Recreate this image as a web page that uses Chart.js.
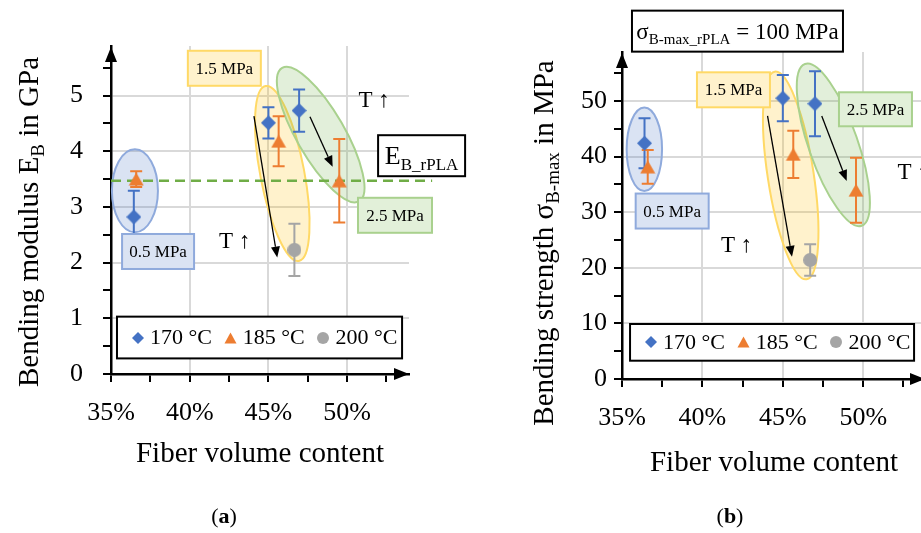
<!DOCTYPE html>
<html><head><meta charset="utf-8">
<script src="https://cdn.jsdelivr.net/npm/chart.js@4.4.1/dist/chart.umd.min.js"></script>
<style>
html,body{margin:0;padding:0;background:#fff;overflow:hidden;}
#wrap{position:relative;width:921px;height:533px;overflow:hidden;background:#fff;}
#ca{position:absolute;left:0;top:0;}
#cb{position:absolute;left:470px;top:0;}
</style></head><body>
<div id="wrap"><canvas id="ca" width="470" height="533"></canvas><canvas id="cb" width="465" height="533"></canvas></div>
<script>
// ---------------- DATA ----------------
const temperatures = ['170 °C', '185 °C', '200 °C'];
const xTickLabels = ['35%', '40%', '45%', '50%'];

// (a) bending modulus in GPa
const fiberA170 = [36.45, 45.0, 46.95];
const modulus170 = [2.82, 4.51, 4.73];
const modulusErr170 = [0.47, 0.28, 0.38];
const fiberA185 = [36.6, 45.65, 49.5];
const modulus185 = [3.50, 4.18, 3.47];
const modulusErr185 = [0.14, 0.45, 0.75];
const fiberA200 = [46.65];
const modulus200 = [2.23];
const modulusErr200 = [0.47];
const modulusRPLA = 3.47;

// (b) bending strength in MPa
const fiberB170 = [36.4, 45.0, 47.0];
const strength170 = [42.4, 50.5, 49.5];
const strengthErr170 = [4.5, 4.15, 5.85];
const fiberB185 = [36.6, 45.65, 49.55];
const strength185 = [38.15, 40.4, 33.95];
const strengthErr185 = [3.05, 4.25, 5.85];
const fiberB200 = [46.7];
const strength200 = [21.4];
const strengthErr200 = [2.85];
const strengthRPLA = 100;

// ---------------- STYLE ----------------
const SERIF = '"Liberation Serif", "Times New Roman", serif';
const BLUE = '#4472C4', ORANGE = '#ED7D31', GRAY = '#A5A5A5';

function markerCanvas(shape, color, w, h) {
  const c = document.createElement('canvas');
  c.width = w; c.height = h;
  const g = c.getContext('2d');
  g.fillStyle = color;
  g.beginPath();
  if (shape === 'diamond') {
    g.moveTo(w / 2, 0); g.lineTo(w, h / 2); g.lineTo(w / 2, h); g.lineTo(0, h / 2);
  } else if (shape === 'triangle') {
    g.moveTo(w / 2, 0.5); g.lineTo(w - 0.5, h - 0.5); g.lineTo(0.5, h - 0.5);
  } else {
    g.arc(w / 2, h / 2, w / 2, 0, Math.PI * 2);
  }
  g.closePath();
  g.fill();
  return c;
}
const MK = {
  diamond: markerCanvas('diamond', BLUE, 15, 15),
  triangle: markerCanvas('triangle', ORANGE, 16, 14),
  circle: markerCanvas('circle', GRAY, 14, 14)
};
const MKL = {
  diamond: markerCanvas('diamond', BLUE, 12, 12),
  triangle: markerCanvas('triangle', ORANGE, 13, 12),
  circle: markerCanvas('circle', GRAY, 12, 12)
};

function pts(xs, ys) { return xs.map((x, i) => ({x: x, y: ys[i]})); }
function isMult(v, m) { const r = Math.abs(v / m - Math.round(v / m)); return r < 1e-6; }

// ---------------- ANNOTATIONS ----------------
const ANN = {
  ca: {
    errors: [modulusErr170, modulusErr185, modulusErr200],
    ellipses: [
      {x: 36.52, y: 3.29, rx: 23, ry: 41.5, rot: 0, fill: 'rgba(68,114,196,0.2)', stroke: '#8FAADC'},
      {x: 45.88, y: 3.60, rx: 22, ry: 89, rot: -10.8, fill: 'rgba(255,192,0,0.2)', stroke: '#FFD966'},
      {x: 48.32, y: 4.30, rx: 24, ry: 77, rot: -30, fill: 'rgba(112,173,71,0.2)', stroke: '#A9D18E'}
    ],
    arrows: [[44.08, 4.63, 45.56, 2.09], [47.64, 4.62, 49.08, 3.72]],
    boxes: [
      {x: 37.99, y: 2.20, w: 72, h: 35, fill: '#DAE3F3', stroke: '#8FAADC', lw: 2, parts: [['0.5 MPa', 0]], size: 17},
      {x: 42.20, y: 5.49, w: 73, h: 35, fill: '#FFF2CC', stroke: '#FFD966', lw: 2, parts: [['1.5 MPa', 0]], size: 17},
      {x: 53.04, y: 2.85, w: 74, h: 35, fill: '#E2F0D9', stroke: '#A9D18E', lw: 2, parts: [['2.5 MPa', 0]], size: 17},
      {x: 54.73, y: 3.92, w: 87, h: 41, fill: '#FFFFFF', stroke: '#000000', lw: 2, parts: [['E', 0], ['B_rPLA', 1]], size: 26}
    ],
    texts: [{x: 51.71, y: 4.90, t: 'T ↑'}, {x: 42.86, y: 2.37, t: 'T ↑'}],
    legend: {x0: 35.38, x1: 53.49, y0: 1.03, y1: 0.28},
    xTitle: {x: 260, y: 462},
    yTitle: {x: 38, y: 222, parts: [['Bending modulus E', 0], ['B', 1], [' in GPa', 0]]},
    panel: {x: 224, y: 523, t: 'a'}
  },
  cb: {
    errors: [strengthErr170, strengthErr185, strengthErr200],
    ellipses: [
      {x: 36.39, y: 41.3, rx: 17.7, ry: 41.8, rot: 0, fill: 'rgba(68,114,196,0.2)', stroke: '#8FAADC'},
      {x: 45.49, y: 36.6, rx: 23, ry: 105, rot: -8.7, fill: 'rgba(255,192,0,0.2)', stroke: '#FFD966'},
      {x: 48.14, y: 42.1, rx: 24.5, ry: 85.7, rot: -19.3, fill: 'rgba(112,173,71,0.2)', stroke: '#A9D18E'}
    ],
    arrows: [[44.05, 47.3, 45.57, 21.97], [47.42, 47.3, 48.97, 35.6]],
    boxes: [
      {x: 38.12, y: 30.2, w: 73, h: 35, fill: '#DAE3F3', stroke: '#8FAADC', lw: 2, parts: [['0.5 MPa', 0]], size: 17},
      {x: 41.93, y: 52.0, w: 73, h: 35, fill: '#FFF2CC', stroke: '#FFD966', lw: 2, parts: [['1.5 MPa', 0]], size: 17},
      {x: 50.76, y: 48.5, w: 73, h: 34, fill: '#E2F0D9', stroke: '#A9D18E', lw: 2, parts: [['2.5 MPa', 0]], size: 17},
      {x: 42.18, y: 62.55, w: 211, h: 41, fill: '#FFFFFF', stroke: '#000000', lw: 2, parts: [['σ', 0], ['B-max_rPLA', 1], [' = ' + strengthRPLA + ' MPa', 0]], size: 23}
    ],
    texts: [{x: 42.13, y: 23.9, t: 'T ↑'}, {x: 53.1, y: 37.1, t: 'T ↑'}],
    legend: {x0: 35.5, x1: 53.16, y0: 9.89, y1: 3.29},
    xTitle: {x: 304, y: 471},
    yTitle: {x: 83, y: 243, parts: [['Bending strength σ', 0], ['B-max', 1], [' in MPa', 0]]},
    panel: {x: 260, y: 523, t: 'b'}
  }
};

function drawRich(ctx, parts, x, y, size, align) {
  const sub = Math.round(size * 0.66);
  const ws = parts.map(p => { ctx.font = (p[1] ? sub : size) + 'px ' + SERIF; return ctx.measureText(p[0]).width; });
  const total = ws.reduce((a, b) => a + b, 0);
  let cx = align === 'center' ? x - total / 2 : (align === 'right' ? x - total : x);
  ctx.textAlign = 'left';
  ctx.textBaseline = 'alphabetic';
  parts.forEach((p, i) => {
    ctx.font = (p[1] ? sub : size) + 'px ' + SERIF;
    ctx.fillText(p[0], cx, y + (p[1] ? size * 0.22 : 0));
    cx += ws[i];
  });
}

function drawArrow(ctx, x1, y1, x2, y2) {
  const a = Math.atan2(y2 - y1, x2 - x1), L = 11, W = 4.5;
  const bx = x2 - L * Math.cos(a), by = y2 - L * Math.sin(a);
  ctx.beginPath(); ctx.moveTo(x1, y1); ctx.lineTo(bx, by);
  ctx.lineWidth = 1.3; ctx.strokeStyle = '#000'; ctx.stroke();
  ctx.beginPath(); ctx.moveTo(x2, y2);
  ctx.lineTo(bx - W * Math.sin(a), by + W * Math.cos(a));
  ctx.lineTo(bx + W * Math.sin(a), by - W * Math.cos(a));
  ctx.closePath(); ctx.fillStyle = '#000'; ctx.fill();
}

const annotPlugin = {
  id: 'annot',
  beforeDatasetsDraw(chart) {
    const A = ANN[chart.canvas.id]; const ctx = chart.ctx;
    const xs = chart.scales.x, ys = chart.scales.y;
    const X = v => xs.getPixelForValue(v), Y = v => ys.getPixelForValue(v);
    ctx.save();
    A.ellipses.forEach(e => {
      ctx.beginPath();
      ctx.ellipse(X(e.x), Y(e.y), e.rx, e.ry, e.rot * Math.PI / 180, 0, Math.PI * 2);
      ctx.fillStyle = e.fill; ctx.fill();
      ctx.lineWidth = 2; ctx.strokeStyle = e.stroke; ctx.stroke();
    });
    ctx.restore();
    A.errors.forEach((errs, di) => {
      const ds = chart.data.datasets[di];
      ctx.save(); ctx.strokeStyle = ds.borderColor; ctx.lineWidth = 2;
      ds.data.forEach((p, i) => {
        const x = X(p.x);
        const y1 = Y(p.y + errs[i]), y2 = Y(p.y - errs[i]);
        ctx.beginPath();
        ctx.moveTo(x, y1); ctx.lineTo(x, y2);
        ctx.moveTo(x - 6, y1); ctx.lineTo(x + 6, y1);
        ctx.moveTo(x - 6, y2); ctx.lineTo(x + 6, y2);
        ctx.stroke();
      });
      ctx.restore();
    });
  },
  afterDatasetsDraw(chart) {
    const A = ANN[chart.canvas.id]; const ctx = chart.ctx;
    const X = v => chart.scales.x.getPixelForValue(v), Y = v => chart.scales.y.getPixelForValue(v);
    ctx.save();
    A.arrows.forEach(a => drawArrow(ctx, X(a[0]), Y(a[1]), X(a[2]), Y(a[3])));
    A.boxes.forEach(b => {
      const cx = X(b.x), cy = Y(b.y);
      ctx.fillStyle = b.fill; ctx.fillRect(cx - b.w / 2, cy - b.h / 2, b.w, b.h);
      ctx.lineWidth = b.lw; ctx.strokeStyle = b.stroke; ctx.strokeRect(cx - b.w / 2, cy - b.h / 2, b.w, b.h);
      ctx.fillStyle = '#000';
      drawRich(ctx, b.parts, cx, cy + b.size * 0.33, b.size, 'center');
    });
    ctx.fillStyle = '#000'; ctx.font = '23px ' + SERIF; ctx.textAlign = 'center'; ctx.textBaseline = 'middle';
    A.texts.forEach(t => ctx.fillText(t.t, X(t.x), Y(t.y)));
    ctx.restore();
  },
  afterDraw(chart) {
    const A = ANN[chart.canvas.id]; const ctx = chart.ctx; const ca = chart.chartArea;
    const X = v => chart.scales.x.getPixelForValue(v), Y = v => chart.scales.y.getPixelForValue(v);
    ctx.save();
    // axis arrowheads
    ctx.fillStyle = '#000';
    ctx.beginPath(); ctx.moveTo(ca.left, ca.top + 1); ctx.lineTo(ca.left - 6, ca.top + 16); ctx.lineTo(ca.left + 6, ca.top + 16); ctx.closePath(); ctx.fill();
    ctx.beginPath(); ctx.moveTo(ca.right, ca.bottom); ctx.lineTo(ca.right - 15, ca.bottom - 6); ctx.lineTo(ca.right - 15, ca.bottom + 6); ctx.closePath(); ctx.fill();
    // legend
    const L = A.legend;
    const lx = X(L.x0), rx = X(L.x1), ty = Y(L.y0), by = Y(L.y1);
    ctx.fillStyle = '#fff'; ctx.fillRect(lx, ty, rx - lx, by - ty);
    ctx.lineWidth = 2; ctx.strokeStyle = '#000'; ctx.strokeRect(lx, ty, rx - lx, by - ty);
    const my = (ty + by) / 2;
    const mks = [MKL.diamond, MKL.triangle, MKL.circle];
    chart.data.datasets.slice(0, 3).forEach((ds, i) => {
      const mx = lx + 21 + i * 92.7;
      const m = mks[i];
      ctx.drawImage(m, Math.round(mx - m.width / 2), Math.round(my - m.height / 2));
      ctx.fillStyle = '#000'; ctx.font = '22px ' + SERIF; ctx.textAlign = 'left'; ctx.textBaseline = 'middle';
      ctx.fillText(ds.label, mx + 12, my + 1);
    });
    // axis titles
    ctx.fillStyle = '#000';
    drawRich(ctx, [['Fiber volume content', 0]], A.xTitle.x, A.xTitle.y, 29, 'center');
    ctx.save(); ctx.translate(A.yTitle.x, A.yTitle.y); ctx.rotate(-Math.PI / 2);
    drawRich(ctx, A.yTitle.parts, 0, 0, 29, 'center');
    ctx.restore();
    // panel label
    ctx.textBaseline = 'alphabetic'; ctx.textAlign = 'left';
    ctx.font = '22px ' + SERIF; const wp = ctx.measureText('(').width;
    ctx.font = 'bold 22px ' + SERIF; const wa = ctx.measureText(A.panel.t).width;
    let px0 = A.panel.x - (2 * wp + wa) / 2;
    ctx.font = '22px ' + SERIF; ctx.fillText('(', px0, A.panel.y);
    ctx.font = 'bold 22px ' + SERIF; ctx.fillText(A.panel.t, px0 + wp, A.panel.y);
    ctx.font = '22px ' + SERIF; ctx.fillText(')', px0 + wp + wa, A.panel.y);
    ctx.restore();
  }
};

function makeChart(id, o) {
  const gridCol = (step, base) => (ctx) => {
    const v = ctx.tick ? ctx.tick.value : NaN;
    return (isMult(v, step) && Math.abs(v - base) > 1e-6) ? '#D9D9D9' : 'rgba(0,0,0,0)';
  };
  const datasets = [
    {label: temperatures[0], data: pts(o.x[0], o.y[0]), pointStyle: MK.diamond, pointRadius: 8, backgroundColor: BLUE, borderColor: BLUE},
    {label: temperatures[1], data: pts(o.x[1], o.y[1]), pointStyle: MK.triangle, pointRadius: 8, backgroundColor: ORANGE, borderColor: ORANGE},
    {label: temperatures[2], data: pts(o.x[2], o.y[2]), pointStyle: MK.circle, pointRadius: 8, backgroundColor: GRAY, borderColor: GRAY}
  ];
  if (o.ref !== undefined) {
    datasets.push({type: 'line', label: 'rPLA', data: [{x: 35, y: o.ref}, {x: 55.4, y: o.ref}],
      borderColor: '#70AD47', borderWidth: 2.5, borderDash: [10, 6], pointRadius: 0, clip: false, fill: false});
  }
  return new Chart(document.getElementById(id), {
    type: 'scatter',
    data: {datasets: datasets},
    plugins: [annotPlugin],
    options: {
      responsive: false, animation: false, events: [],
      layout: {padding: o.pad},
      plugins: {legend: {display: false}, tooltip: {enabled: false}},
      scales: {
        x: {
          type: 'linear', min: 35, max: o.xMax,
          ticks: {stepSize: 2.5, includeBounds: false, autoSkip: false, maxRotation: 0, padding: o.xPad,
            color: '#000', font: {family: SERIF, size: 26},
            callback: v => isMult(v, 5) ? xTickLabels[Math.round((v - 35) / 5)] : ''},
          grid: {color: gridCol(5, 35), lineWidth: 2, drawTicks: true, tickLength: 8, tickColor: '#000', tickWidth: 2},
          border: {color: '#000', width: 2.5},
          afterFit: s => { s.height = o.xH; }
        },
        y: {
          type: 'linear', min: 0, max: o.yMax,
          ticks: {stepSize: o.yStep, includeBounds: false, autoSkip: false, padding: o.yPad,
            color: '#000', font: {family: SERIF, size: 26},
            callback: v => isMult(v, o.yStep * 2) ? String(Math.round(v)) : ''},
          grid: {color: gridCol(o.yStep * 2, 0), lineWidth: 2, drawTicks: true, tickLength: 8, tickColor: '#000', tickWidth: 2},
          border: {color: '#000', width: 2.5},
          afterFit: s => { s.width = o.yW; }
        }
      }
    }
  });
}

makeChart('ca', {
  x: [fiberA170, fiberA185, fiberA200], y: [modulus170, modulus185, modulus200], ref: modulusRPLA,
  pad: {left: 0, top: 46, right: 61, bottom: 0}, xMax: 53.93, yMax: 5.89, yStep: 0.5,
  xH: 159, yW: 111, xPad: 16, yPad: 20
});
makeChart('cb', {
  x: [fiberB170, fiberB185, fiberB200], y: [strength170, strength185, strength200],
  pad: {left: 0, top: 52, right: 10, bottom: 0}, xMax: 53.84, yMax: 58.8, yStep: 5,
  xH: 154, yW: 152, xPad: 16, yPad: 7
});
</script>
</body></html>
